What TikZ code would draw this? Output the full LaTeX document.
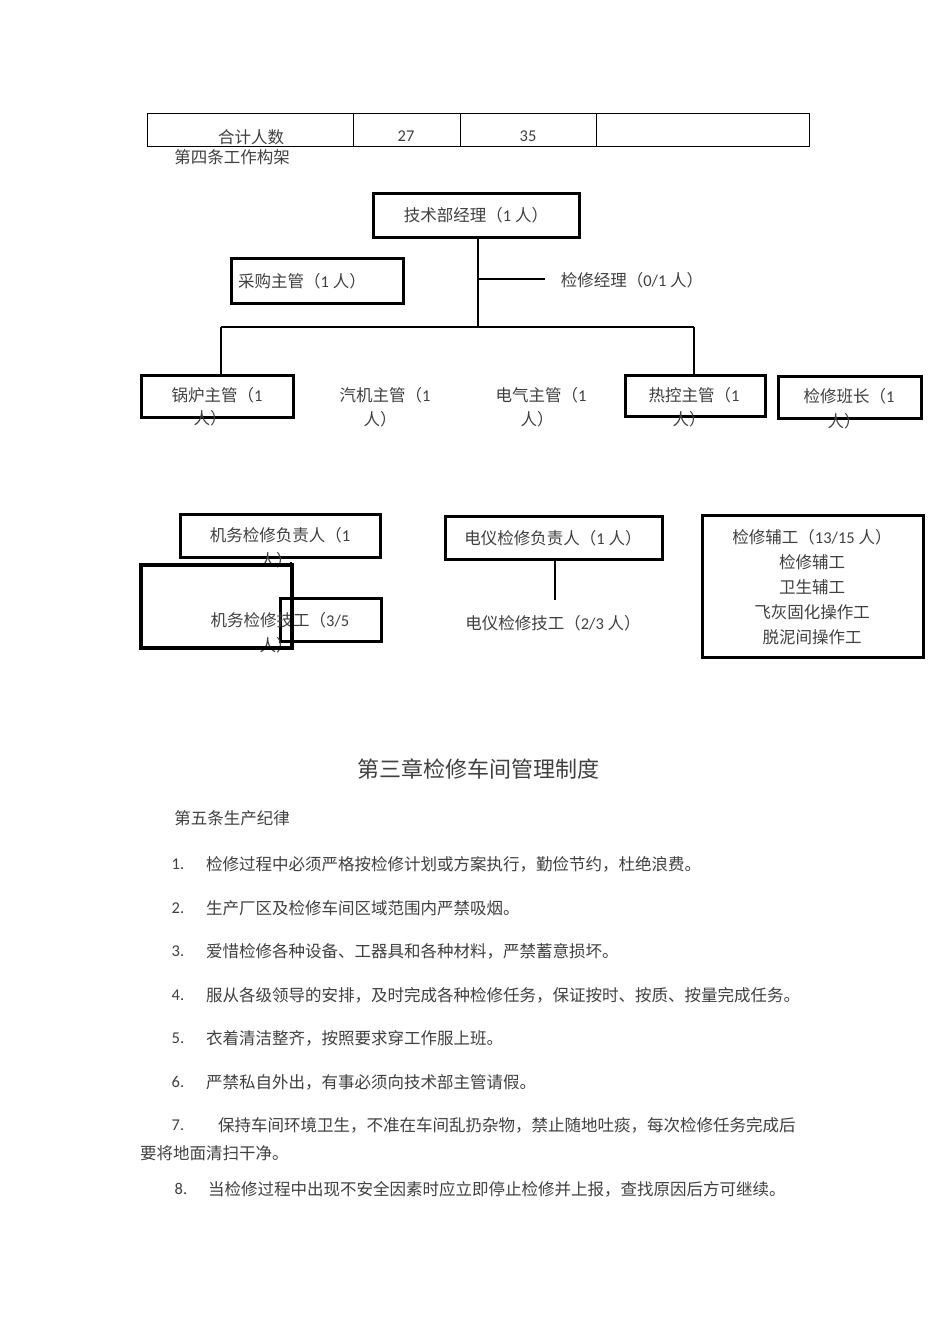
\documentclass[tikz,border=0pt]{standalone}
\usepackage{fontspec}
\setmainfont{Noto Sans CJK SC}
\newfontfamily\numf{Carlito}
\newcommand\nm[1]{{\numf #1}}
\begin{document}
\begin{tikzpicture}[x=1pt,y=-1pt,
  tx/.style={font=\fontsize{16.5}{19}\selectfont,text=black!75,inner sep=0pt},
  bx/.style={draw,line width=3pt},
  ln/.style={line width=2.4pt}]
\useasboundingbox[fill=white] (0,0) rectangle (950,1344);
% table
\draw[line width=0.6pt] (147,113) rectangle (809,146);
\foreach \x in {353,460,596} \draw[line width=0.6pt] (\x,113)--(\x,146);
\node[tx] (t1) at (251,137) {合计人数};
\node[tx] (t2) at (406,136) {\nm{27}};
\node[tx] (t3) at (528,136) {\nm{35}};
\node[tx] (h4) at (232,157) {第四条工作构架};
% chart
\draw[bx] (373,193) rectangle (579,237); \node[tx] (jsb) at (476,215) {技术部经理（\nm{1} 人）};
\coordinate (c1) at (478,237); \coordinate (c2) at (478,327); \coordinate (c3) at (545,279); \coordinate (c4) at (478,279);
\draw[ln] (c1)--(c2); \draw[ln] (c4)--(c3);
\node[tx] (jx) at (632,280) {检修经理（\nm{0/1} 人）};
\draw[bx] (231,258) rectangle (403,303); \node[tx] (cg) at (302,281) {采购主管（\nm{1} 人）};
\coordinate (h1) at (221,327); \coordinate (h2) at (694,327);
\coordinate (v1) at (221,375); \coordinate (v2) at (694,375);
\draw[ln] (h1)--(h2); \draw[ln] (h1)--(v1); \draw[ln] (h2)--(v2);
\draw[bx] (141,375) rectangle (293,417);
\node[tx] (gl) at (217,395) {锅炉主管（\nm{1}};\node[tx] at (210,418) {人）};
\node[tx] (qj) at (385,395) {汽机主管（\nm{1}};\node[tx] at (380,419) {人）};
\node[tx] (dq) at (541,395) {电气主管（\nm{1}};\node[tx] at (537,419) {人）};
\draw[bx] (625,375) rectangle (765,416);
\node[tx] (rk) at (694,395) {热控主管（\nm{1}};\node[tx] at (689,419) {人）};
\draw[bx] (778,376) rectangle (921,418);
\node[tx] (bz) at (849,396) {检修班长（\nm{1}};\node[tx] at (844,421) {人）};
% lower
\draw[bx] (180,514) rectangle (380,557);
\node[tx] (jwf) at (280,535) {机务检修负责人（\nm{1}};\node[tx] at (276,560) {人）};
\draw[bx] (280,598) rectangle (381,641);
\node[tx] (jwj) at (280,620) {机务检修技工（\nm{3/5}};\node[tx] at (276,645) {人）};
\draw[line width=3.6pt] (141,565) rectangle (292,648);
\coordinate (m1) at (291,562); \coordinate (m2) at (291,598);
\draw[ln] (m1)--(m2);
\draw[bx] (445,516) rectangle (662,559);
\node[tx] (dyf) at (553,538) {电仪检修负责人（\nm{1} 人）};
\coordinate (d1) at (555,560); \coordinate (d2) at (555,600);
\draw[ln] (d1)--(d2);
\node[tx] (dyj) at (553,623) {电仪检修技工（\nm{2/3} 人）};
\draw[bx] (702,515) rectangle (923,657);
\node[tx] at (812,537) {检修辅工（\nm{13/15} 人）};
\node[tx] at (812,562) {检修辅工};
\node[tx] at (812,587) {卫生辅工};
\node[tx] at (812,612) {飞灰固化操作工};
\node[tx] at (812,637) {脱泥间操作工};
% text
\node[tx,font=\fontsize{22}{25}\selectfont] (title) at (478,769) {第三章检修车间管理制度};
\node[tx] (h5) at (232,818) {第五条生产纪律};
\foreach \n/\y/\s in {1/864/检修过程中必须严格按检修计划或方案执行，勤俭节约，杜绝浪费。,
 2/908/生产厂区及检修车间区域范围内严禁吸烟。,
 3/951/爱惜检修各种设备、工器具和各种材料，严禁蓄意损坏。,
 4/995/服从各级领导的安排，及时完成各种检修任务，保证按时、按质、按量完成任务。,
 5/1038/衣着清洁整齐，按照要求穿工作服上班。,
 6/1082/严禁私自外出，有事必须向技术部主管请假。}{
 \node[tx] at (178,\y) {\nm{\n.}};
 \node[tx,anchor=west] at (206,\y) {\s};
}
\node[tx] at (178,1125) {\nm{7.}};
\node[tx,anchor=west] at (218,1125) {保持车间环境卫生，不准在车间乱扔杂物，禁止随地吐痰，每次检修任务完成后};
\node[tx,anchor=west] at (140,1153) {要将地面清扫干净。};
\node[tx] at (181,1189) {\nm{8.}};
\node[tx,anchor=west] at (208,1189) {当检修过程中出现不安全因素时应立即停止检修并上报，查找原因后方可继续。};
\end{tikzpicture}
\end{document}
